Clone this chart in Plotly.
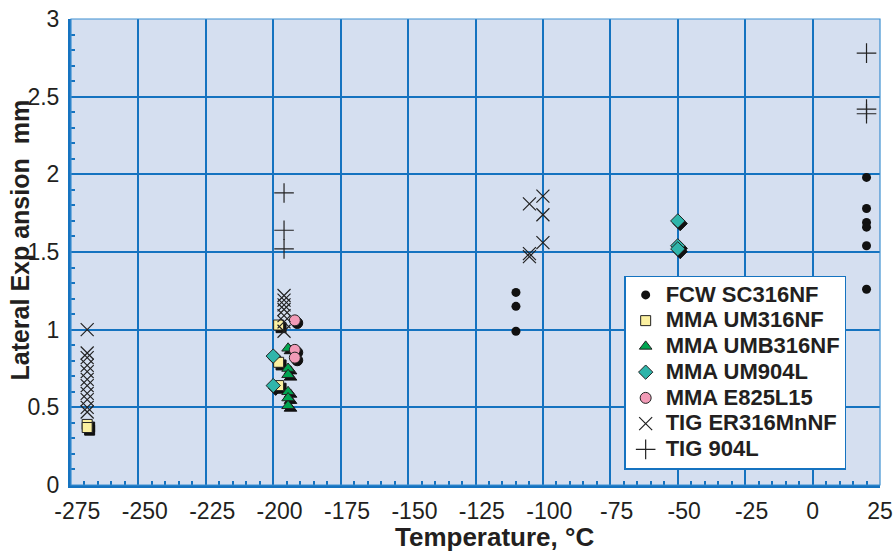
import plotly.graph_objects as go

# ---- data ----
fcw_x = [-110, -110, -110, 20, 20, 20, 20, 20, 20]
fcw_y = [1.24, 1.15, 0.99, 1.98, 1.78, 1.69, 1.66, 1.54, 1.26]

um316_x = [-269, -269, -198, -198, -198]
um316_y = [0.39, 0.37, 1.03, 0.79, 0.64]

umb316_x = [-194.5, -194.5, -194.5, -194.5, -194.5, -194.5]
umb316_y = [0.88, 0.75, 0.71, 0.60, 0.56, 0.51]

um904_x = [-200, -200, -50, -50, -50]
um904_y = [0.83, 0.64, 1.70, 1.54, 1.52]

e825_x = [-192, -192, -192]
e825_y = [1.06, 0.87, 0.82]

tig316_x = [-269] * 11 + [-196] * 7 + [-105, -105, -105, -100, -100, -100]
tig316_y = [1.00, 0.85, 0.82, 0.77, 0.73, 0.68, 0.64, 0.59, 0.55, 0.50, 0.47,
            1.22, 1.19, 1.16, 1.13, 1.09, 1.05, 0.99,
            1.81, 1.49, 1.47, 1.86, 1.74, 1.56]

tig904_x = [-196, -196, -196, 20, 20, 20]
tig904_y = [1.88, 1.64, 1.52, 2.78, 2.42, 2.39]

series_names = ["FCW SC316NF", "MMA UM316NF", "MMA UMB316NF", "MMA UM904L",
                "MMA E825L15", "TIG ER316MnNF", "TIG 904L"]

x_ticks = list(range(-275, 26, 25))
x_ticktext = [("\u00a0\u00a0-%d" % -v) if v < 0 else ("%d" % v) for v in x_ticks]
y_ticks = [0, 0.5, 1, 1.5, 2, 2.5, 3]

BLUE = "#1573c0"
BG = "#d5dff0"
TXT = "#231f20"
INK = "#222222"


def lname(s):
    return "<b><span style='font-size:22px'>%s</span></b>" % s


fig = go.Figure()

# drop shadows for filled markers
shadow_dx, shadow_dy = 0.9, -0.017
for xs, ys, sym, sz in [(um316_x, um316_y, "square", 10),
                         (umb316_x, umb316_y, "triangle-up", 11),
                         (um904_x, um904_y, "diamond", 11),
                         (e825_x, e825_y, "circle", 11)]:
    fig.add_trace(go.Scatter(
        x=[v + shadow_dx for v in xs], y=[v + shadow_dy for v in ys],
        mode="markers", showlegend=False, hoverinfo="skip",
        marker=dict(symbol=sym, size=sz, color="#111111",
                    line=dict(color="#111111", width=1))))

fig.add_trace(go.Scatter(x=fcw_x, y=fcw_y, mode="markers", name=lname(series_names[0]),
                         marker=dict(symbol="circle", size=9, color="#111111")))
fig.add_trace(go.Scatter(x=um316_x, y=um316_y, mode="markers", name=lname(series_names[1]),
                         marker=dict(symbol="square", size=10, color="#fbf0a0",
                                     line=dict(color=INK, width=1))))
fig.add_trace(go.Scatter(x=umb316_x, y=umb316_y, mode="markers", name=lname(series_names[2]),
                         marker=dict(symbol="triangle-up", size=11, color="#00a651",
                                     line=dict(color=INK, width=1))))
fig.add_trace(go.Scatter(x=um904_x, y=um904_y, mode="markers", name=lname(series_names[3]),
                         marker=dict(symbol="diamond", size=11, color="#2fb5aa",
                                     line=dict(color=INK, width=1))))
fig.add_trace(go.Scatter(x=e825_x, y=e825_y, mode="markers", name=lname(series_names[4]),
                         marker=dict(symbol="circle", size=11, color="#f29bb7",
                                     line=dict(color=INK, width=1))))
fig.add_trace(go.Scatter(x=tig316_x, y=tig316_y, mode="markers", name=lname(series_names[5]),
                         marker=dict(symbol="x-thin-open", size=13, color=INK,
                                     line=dict(color=INK, width=1.2))))
fig.add_trace(go.Scatter(x=tig904_x, y=tig904_y, mode="markers", name=lname(series_names[6]),
                         marker=dict(symbol="cross-thin-open", size=14, color=INK,
                                     line=dict(color=INK, width=1.2))))

fig.update_layout(
    width=896, height=553,
    margin=dict(l=70.5, r=16, t=19, b=68, autoexpand=False),
    paper_bgcolor="white", plot_bgcolor=BG,
    font=dict(family="Liberation Sans, Arial, sans-serif", color=TXT, size=23),
    legend=dict(x=(624 - 70.5) / 809.5, y=(485 - 275.5) / 466,
                xanchor="left", yanchor="top",
                bgcolor="white", bordercolor=BLUE, borderwidth=1.5,
                font=dict(size=17.5, family="Liberation Sans, Arial, sans-serif",
                          color=TXT),
                tracegroupgap=0),
    xaxis=dict(range=[-275, 25], tickvals=x_ticks, ticktext=x_ticktext, showgrid=True,
               gridcolor=BLUE, gridwidth=1.5, zeroline=False, automargin=False,
               showline=True, linecolor=BLUE, linewidth=3,
               ticks="inside", ticklen=5, tickwidth=2, tickcolor=BLUE,
               minor=dict(dtick=5, ticks="inside", ticklen=4, tickwidth=2,
                          tickcolor=BLUE, showgrid=False),
               tickfont=dict(size=23, color=TXT), ticklabelstandoff=3),
    yaxis=dict(range=[0, 3], tickvals=y_ticks, showgrid=True,
               gridcolor=BLUE, gridwidth=1.5, zeroline=False, automargin=False,
               showline=True, linecolor=BLUE, linewidth=3,
               ticks="inside", ticklen=5, tickwidth=2, tickcolor=BLUE,
               minor=dict(dtick=0.1, ticks="inside", ticklen=4, tickwidth=2,
                          tickcolor=BLUE, showgrid=False),
               tickfont=dict(size=23, color=TXT), ticklabelstandoff=4),
    shapes=[dict(type="rect", xref="paper", yref="paper", x0=0, x1=1, y0=0, y1=1,
                 line=dict(color="#3d8fd1", width=1.2), layer="above")],
)

# axis titles as annotations (positioned in pixels)
fig.add_annotation(text="<b>Temperature, °C</b>", xref="paper", yref="paper",
                   x=(494 - 70.5) / 809.5, y=(485 - 537) / 466, showarrow=False,
                   font=dict(size=26, color=TXT), xanchor="center", yanchor="middle")
fig.add_annotation(text="<b>Lateral Exp ansion  mm</b>", xref="paper", yref="paper",
                   x=(19 - 70.5) / 809.5, y=(485 - 240) / 466, showarrow=False,
                   textangle=-90, font=dict(size=25, color=TXT),
                   xanchor="center", yanchor="middle")

fig.write_html("out.html")
